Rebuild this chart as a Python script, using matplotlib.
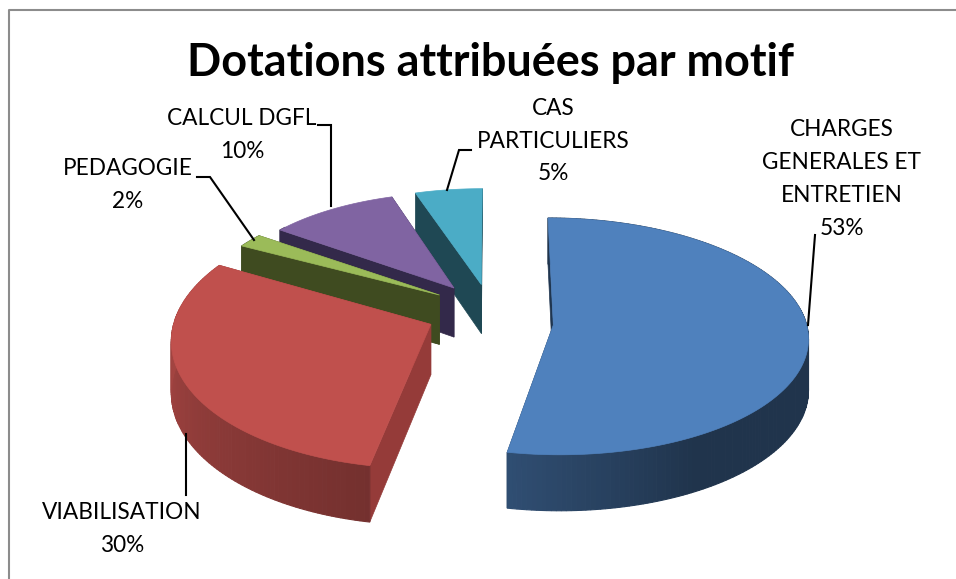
import numpy as np
import matplotlib
matplotlib.use('Agg')
import matplotlib.pyplot as plt
from matplotlib.patches import Polygon

# Donnees
motifs = ['CHARGES\nGENERALES ET\nENTRETIEN', 'VIABILISATION', 'PEDAGOGIE', 'CALCUL DGFL', 'CAS\nPARTICULIERS']
valeurs = [53, 30, 2, 10, 5]
titre = 'Dotations attribuées par motif'

# Style
couleurs = ['#4F81BD', '#C0504D', '#9BBB59', '#8064A2', '#4BACC6']
flanc = ['#1F354F', '#953B39', '#3F4B20', '#33294A', '#1F4854']
shift_x = [0.225, -0.232, -0.205, -0.150, -0.045]
shift_y = [-0.115, -0.110, 0.135, 0.195, 0.225]
echelle_x = [0.945, 0.96, 0.91, 0.88, 0.905]
echelle_y = [0.955, 1.05, 0.91, 0.90, 0.91]
label_pos = [(842, 179), (122, 529), (128, 185), (242, 135), (553, 141)]
leaders = [
    [(808, 325), (815, 235)],
    [(186, 434), (186, 495)],
    [(197, 177), (210, 177), (254, 240)],
    [(318, 125), (331, 125), (331, 206)],
    [(471, 150), (459, 150), (447, 190)],
]

# Geometrie de la projection
CX, CY = 493, 311
RX, RY = 265, 120
P = 0.10
H = 50


def projet(x, y, z=0):
    f = 1 / (1 + P * y)
    return CX + RX * x * f, CY - RY * y * f + H * z * f


def assombrir(col, k):
    return tuple(c * k for c in matplotlib.colors.to_rgb(col))


plt.rcParams['font.family'] = ['Lato', 'DejaVu Sans']
fig = plt.figure(figsize=(9.56, 5.79), dpi=100)
ax = fig.add_axes([0, 0, 1, 1])
ax.set_xlim(0, 956)
ax.set_ylim(579, 0)
ax.axis('off')

# Cadre (haut et gauche)
ax.plot([9, 9, 956], [579, 10, 10], color='#8C8C8C', lw=1.5)

# Angles des secteurs
fractions = np.array(valeurs) / np.sum(valeurs)
fins = np.cumsum(fractions) * 2 * np.pi
debuts = fins - fractions * 2 * np.pi

# du fond vers l'avant
ordre = [4, 3, 2, 1, 0]
for i in ordre:
    a = np.linspace(debuts[i], fins[i], max(int(np.degrees(fins[i] - debuts[i])), 8))
    xs = shift_x[i] + echelle_x[i] * np.sin(a)
    ys = shift_y[i] + echelle_y[i] * np.cos(a)
    ax0, ay0 = shift_x[i], shift_y[i]

    # faces radiales
    for k in (-1, 0):
        pts = [projet(ax0, ay0, 0), projet(xs[k], ys[k], 0), projet(xs[k], ys[k], 1), projet(ax0, ay0, 1)]
        ax.add_patch(Polygon(pts, closed=True, fc=flanc[i], ec=flanc[i], lw=0.5, snap=False))

    # bord exterieur avec degrade
    for j in range(len(a) - 1):
        if ys[j] > shift_y[i] + 0.55 and i != 0:
            continue
        deg = np.degrees((a[j] + a[j + 1]) / 2)
        k = np.interp(deg, [0, 150, 190, 270, 360], [0.40, 0.40, 0.60, 0.85, 0.85])
        if i in (2, 3, 4):
            col = flanc[i]
        else:
            col = assombrir(couleurs[i], k)
        pts = [projet(xs[j], ys[j], 0), projet(xs[j + 1], ys[j + 1], 0),
               projet(xs[j + 1], ys[j + 1], 1), projet(xs[j], ys[j], 1)]
        ax.add_patch(Polygon(pts, closed=True, fc=col, ec=col, lw=0.8, snap=False))

    # dessus
    dessus = [projet(ax0, ay0)] + [projet(x, y) for x, y in zip(xs, ys)]
    ax.add_patch(Polygon(dessus, closed=True, fc=couleurs[i], ec=couleurs[i], lw=0.5, snap=False))

# Lignes de rappel
for ligne in leaders:
    ax.plot([p[0] for p in ligne], [p[1] for p in ligne], color='black', lw=1.5, solid_joinstyle='miter')

# Etiquettes
for nom, v, pos in zip(motifs, valeurs, label_pos):
    ax.text(pos[0], pos[1], '%s\n%d%%' % (nom, v), ha='center', va='center', fontsize=16.3,
            linespacing=1.7, color='black')

ax.text(490, 63, titre, ha='center', va='center', fontsize=32.4, fontweight='bold', color='black')

fig.savefig('out.png', dpi=100)
